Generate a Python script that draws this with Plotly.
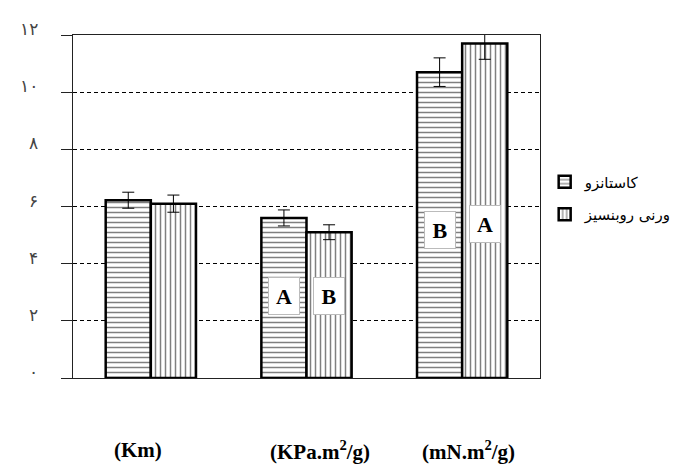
import plotly.graph_objects as go

categories = ["c1", "c2", "c3"]
series_names = ["کاستانزو", "ورنی روبنسیز"]
values_castanzo = [6.22, 5.6, 10.7]
errors_castanzo = [0.28, 0.28, 0.5]
values_verni = [6.1, 5.1, 11.7]
errors_verni = [0.3, 0.26, 0.55]
ytick_vals = [0, 2, 4, 6, 8, 10, 12]
ytick_text = ["۰", "۲", "۴", "۶", "۸", "۱۰", "۱۲"]
xlabels = ["(Km)", "(KPa.m<sup>2</sup>/g)", "(mN.m<sup>2</sup>/g)"]
xlabel_pos = [138, 320, 468]
letters_castanzo = [None, "A", "B"]
letters_verni = [None, "B", "A"]
letter_y_castanzo = [None, 2.87, 5.18]
letter_y_verni = [None, 2.87, 5.39]

xi = list(range(len(categories)))

L, R, T, B = 73, 160, 35, 95
W, H = 700, 473
pw, ph = W - L - R, H - T - B

fig = go.Figure()
fig.add_trace(go.Bar(
    x=xi, y=values_castanzo, name=series_names[0], legendgroup="a",
    error_y=dict(type="data", array=errors_castanzo, color="black", thickness=1, width=6),
    marker=dict(color="white", line=dict(color="black", width=2.5),
                pattern=dict(shape="-", fgcolor="black", bgcolor="white", size=5, solidity=0.3)),
))
fig.add_trace(go.Bar(
    x=xi, y=values_verni, name=series_names[1], legendgroup="b",
    error_y=dict(type="data", array=errors_verni, color="black", thickness=1, width=6),
    marker=dict(color="white", line=dict(color="black", width=2.5),
                pattern=dict(shape="|", fgcolor="black", bgcolor="white", size=5, solidity=0.3)),
))

off = 0.1445
for i in xi:
    for lst, ys, dx in ((letters_castanzo, letter_y_castanzo, -off), (letters_verni, letter_y_verni, off)):
        if lst[i]:
            fig.add_annotation(
                x=i + dx, y=ys[i], xref="x", yref="y", text="<b>" + lst[i] + "</b>",
                showarrow=False, bgcolor="white", bordercolor="#bbbbbb", borderwidth=1,
                width=30, height=36, borderpad=0,
                font=dict(family="Liberation Serif", size=22, color="black"))

for t, px in zip(xlabels, xlabel_pos):
    fig.add_annotation(x=(px - L) / pw, y=(H - B - 450) / ph, xref="paper", yref="paper",
                       xanchor="center", yanchor="middle", text="<b>" + t + "</b>",
                       showarrow=False,
                       font=dict(family="Liberation Serif", size=21, color="black"))

# y tick labels (Persian digits), drawn slightly above each tick like the reference
for v, t in zip(ytick_vals, ytick_text):
    fig.add_annotation(x=(40 - L) / pw, y=v, xref="paper", yref="y", xanchor="right",
                       yanchor="middle", yshift=6, text=t, showarrow=False,
                       font=dict(family="DejaVu Sans", size=17, color="#444"))

fig.update_layout(
    width=W, height=H,
    margin=dict(l=L, r=R, t=T, b=B),
    plot_bgcolor="white", paper_bgcolor="white",
    barmode="group", bargap=0.42, bargroupgap=0,
    showlegend=True,
    legend=dict(x=1.01, y=0.525, xanchor="left", yanchor="middle",
                font=dict(family="DejaVu Sans", size=15, color="black"),
                traceorder="grouped", tracegroupgap=10, bgcolor="rgba(0,0,0,0)"),
    xaxis=dict(range=[-0.5, 2.5], showticklabels=False, ticks="", showgrid=False,
               showline=True, linecolor="#222", linewidth=1, mirror=True, zeroline=False),
    yaxis=dict(range=[0, 12], tickvals=ytick_vals, showticklabels=False,
               ticks="outside", ticklen=11, tickcolor="#222",
               showline=True, linecolor="#222", linewidth=1, mirror=True,
               showgrid=True, gridcolor="black", gridwidth=1, griddash="4px,3px",
               zeroline=False),
)

fig.write_html("out.html")
